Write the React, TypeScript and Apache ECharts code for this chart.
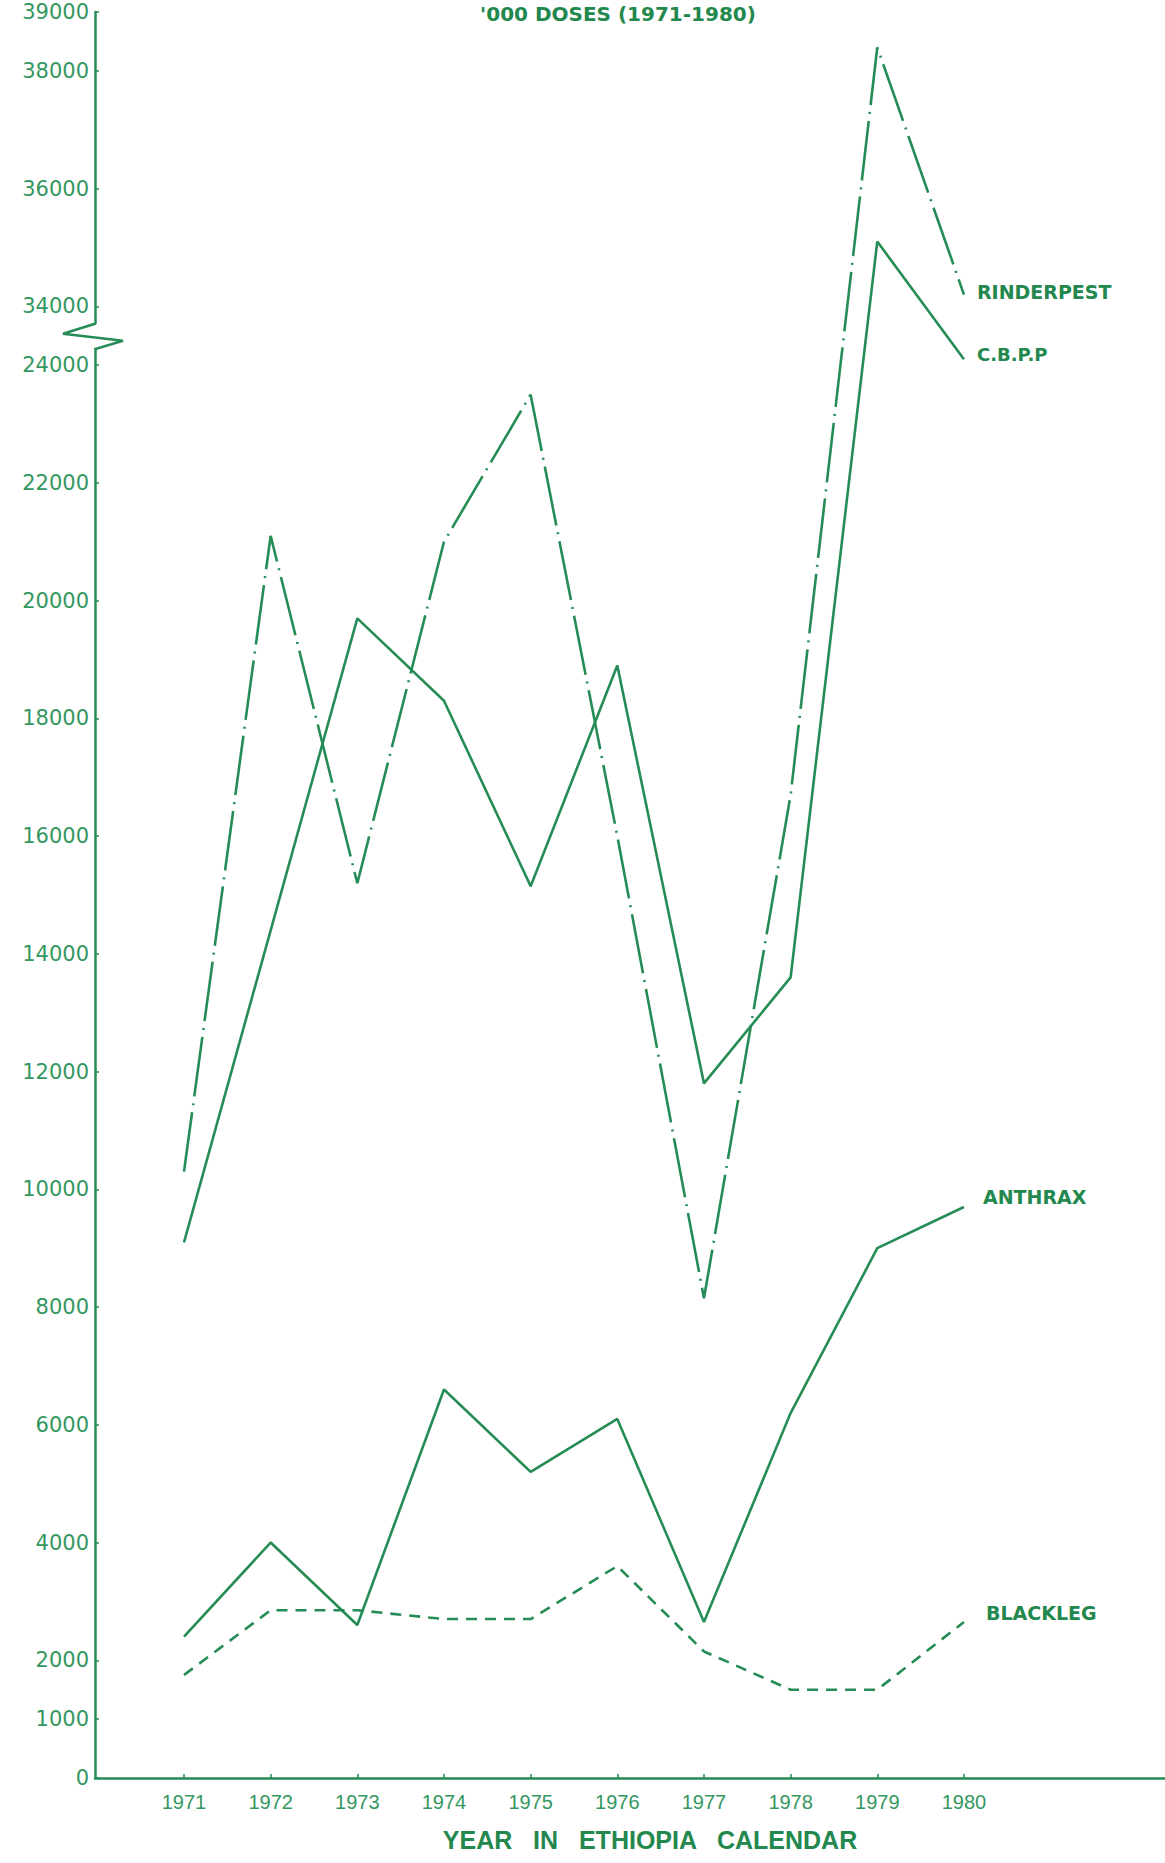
import React, { useEffect, useRef } from "react";
import * as echarts from "echarts";

// ---------- data (values in '000 doses) ----------
const years = [1971, 1972, 1973, 1974, 1975, 1976, 1977, 1978, 1979, 1980];
const rinderpest = [10300, 21100, 15200, 21000, 23500, 16000, 8150, 16700, 38400, 34200];
const cbpp = [9100, 14400, 19700, 18300, 15150, 18900, 11800, 13600, 35100, 24100];
const anthrax = [2400, 4000, 2600, 6600, 5200, 6100, 2650, 6200, 9000, 9700];
const blackleg = [1750, 2850, 2850, 2700, 2700, 3600, 2150, 1500, 1500, 2650];
const seriesNames = ["RINDERPEST", "C.B.P.P", "ANTHRAX", "BLACKLEG"];
const yTickValues = [
  0, 1000, 2000, 4000, 6000, 8000, 10000, 12000, 14000, 16000, 18000, 20000,
  22000, 24000, 34000, 36000, 38000, 39000,
];
const titleText = "'000 DOSES (1971-1980)";
const xTitleText = "YEAR   IN   ETHIOPIA   CALENDAR";

// broken value axis: [0, 24500] and [33500, 39000] are drawn contiguously
const BREAK_LOW = 24500;
const BREAK_HIGH = 33500;
const toAxis = (v: number) => (v <= BREAK_LOW ? v : v - (BREAK_HIGH - BREAK_LOW));
const fromAxis = (t: number) => (t <= BREAK_LOW ? t : t + (BREAK_HIGH - BREAK_LOW));

const LINE = "#268c55";
const TEXT = "#22884d";
const LABEL = "#34975f";

export default function App() {
  const ref = useRef<HTMLDivElement>(null);

  useEffect(() => {
    if (!ref.current) return;
    const chart = echarts.init(ref.current, undefined, { renderer: "svg" });

    const mk = (
      name: string,
      vals: number[],
      type: any,
      fs: number,
      dist: number,
      off: number
    ) => ({
      name,
      type: "line",
      symbol: "none",
      data: years.map((y, i) => [y, toAxis(vals[i])]),
      lineStyle: { color: LINE, width: 2.6, type },
      itemStyle: { color: LINE },
      endLabel: {
        show: true,
        formatter: name,
        color: TEXT,
        fontFamily: "DejaVu Sans",
        fontWeight: "bold",
        fontSize: fs,
        distance: dist,
        offset: [0, off],
      },
      z: 3,
    });

    const xMin = 1969.973;
    const xMax = 1982.32;

    chart.setOption({
      animation: false,
      backgroundColor: "#ffffff",
      grid: { left: 95, right: 0, top: 12, bottom: 85 },
      xAxis: {
        type: "value",
        min: xMin,
        max: xMax,
        axisLine: { show: true, lineStyle: { color: LINE, width: 2.5 } },
        axisTick: {
          show: true,
          inside: true,
          length: 4,
          customValues: years,
          lineStyle: { color: LINE, width: 1.5 },
        },
        axisLabel: {
          customValues: years,
          formatter: (v: number) => String(Math.round(v)),
          color: LABEL,
          fontFamily: "Liberation Sans",
          fontSize: 20,
          margin: 14,
        },
        splitLine: { show: false },
      },
      yAxis: {
        type: "value",
        min: 0,
        max: toAxis(39000),
        axisLine: { show: true, lineStyle: { color: LINE, width: 2.5 } },
        axisTick: {
          show: true,
          inside: true,
          length: 4,
          customValues: yTickValues.map(toAxis),
          lineStyle: { color: LINE, width: 1.5 },
        },
        axisLabel: {
          customValues: yTickValues.map(toAxis),
          formatter: (v: number) => String(Math.round(fromAxis(v))),
          color: LABEL,
          fontFamily: "DejaVu Sans",
          fontSize: 21,
          margin: 6,
        },
        splitLine: { show: false },
      },
      series: [
        mk(seriesNames[0], rinderpest, [60, 7, 2, 7], 19, 13, -3),
        mk(seriesNames[1], cbpp, "solid", 18, 13, -5),
        mk(seriesNames[2], anthrax, "solid", 19, 19, -10),
        mk(seriesNames[3], blackleg, [11, 8], 19, 22, -9),
      ],
    });

    const yb = chart.convertToPixel({ yAxisIndex: 0 }, BREAK_LOW) as number;
    const xa = chart.convertToPixel({ xAxisIndex: 0 }, xMin) as number;

    chart.setOption({
      graphic: [
        {
          type: "text",
          x: 618,
          y: 14,
          style: {
            text: titleText,
            fill: TEXT,
            font: "bold 20px 'DejaVu Sans'",
            textAlign: "center",
            textVerticalAlign: "middle",
          },
        },
        {
          type: "text",
          x: 650,
          y: 1840,
          style: {
            text: xTitleText,
            fill: TEXT,
            font: "bold 25px 'Liberation Sans'",
            textAlign: "center",
            textVerticalAlign: "middle",
          },
        },
        {
          type: "rect",
          shape: { x: xa - 4, y: yb - 12, width: 8, height: 24 },
          style: { fill: "#ffffff" },
          z: 10,
        },
        {
          type: "polyline",
          shape: {
            points: [
              [xa, yb - 13],
              [xa, yb - 12],
              [xa - 32, yb - 2],
              [xa + 28, yb + 5],
              [xa + 1, yb + 13],
              [xa, yb + 14],
            ],
          },
          style: { stroke: LINE, lineWidth: 2.5, fill: "none" },
          z: 11,
        },
      ],
    });

    return () => chart.dispose();
  }, []);

  return (
    <div
      ref={ref}
      style={{ position: "absolute", left: 0, top: 0, width: 1165, height: 1863 }}
    />
  );
}
